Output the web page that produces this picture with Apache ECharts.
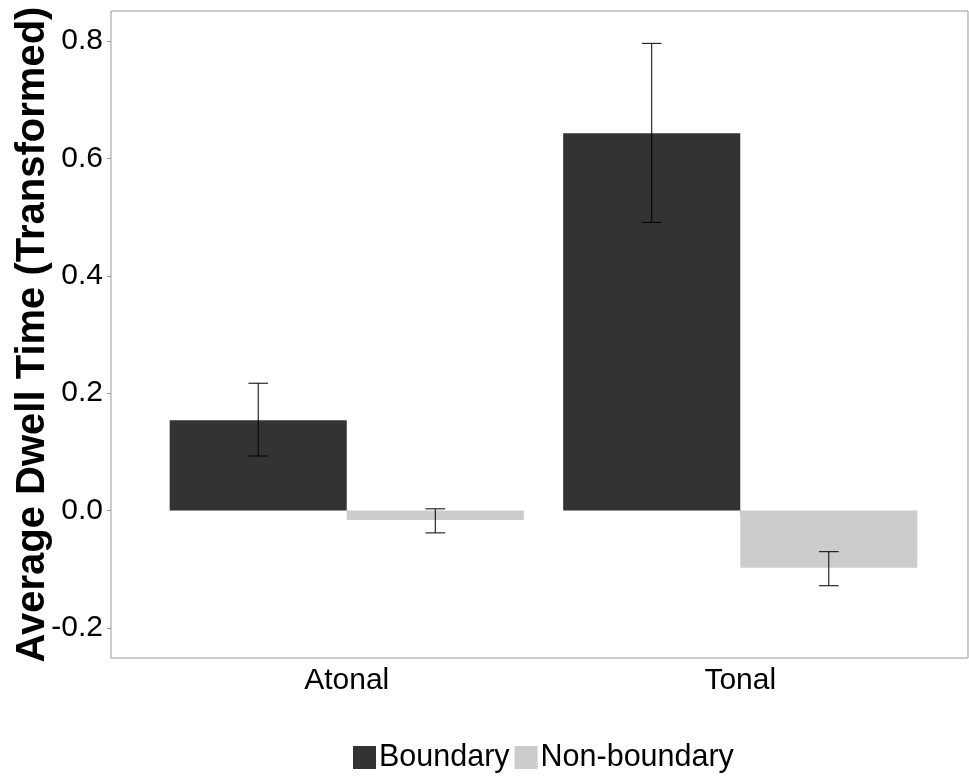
<!DOCTYPE html>
<html>
<head>
<meta charset="utf-8">
<script src="https://cdn.jsdelivr.net/npm/echarts@6/dist/echarts.min.js"></script>
<style>html,body{margin:0;padding:0;background:#fff}#c{width:969px;height:779px}</style>
</head>
<body>
<div id="c"></div>
<script>
const categories = ['Atonal', 'Tonal'];
const seriesNames = ['Boundary', 'Non-boundary'];
const boundary = [0.154, 0.643];
const boundaryLow = [0.093, 0.491];
const boundaryHigh = [0.217, 0.796];
const nonBoundary = [-0.016, -0.0975];
const nonBoundaryLow = [-0.038, -0.128];
const nonBoundaryHigh = [0.003, -0.070];
const yTicks = { min: -0.2, max: 0.8, interval: 0.2 };

const FONT = 'Liberation Sans, Arial, sans-serif';
const chart = echarts.init(document.getElementById('c'), null, { renderer: 'canvas' });

function errData(lo, hi) {
  return categories.map((c, i) => [i, lo[i], hi[i]]);
}
function errRender(shift) {
  return function (params, api) {
    const x = api.value(0);
    const pLo = api.coord([x, api.value(1)]);
    const pHi = api.coord([x, api.value(2)]);
    const band = api.size([1, 0])[0];
    const cx = pLo[0] + shift * band;
    const hw = band * 0.025;
    const st = { stroke: '#000', lineWidth: 1 };
    return {
      type: 'group',
      children: [
        { type: 'line', shape: { x1: cx, y1: pLo[1], x2: cx, y2: pHi[1] }, style: st },
        { type: 'line', shape: { x1: cx - hw, y1: pHi[1], x2: cx + hw, y2: pHi[1] }, style: st },
        { type: 'line', shape: { x1: cx - hw, y1: pLo[1], x2: cx + hw, y2: pLo[1] }, style: st }
      ]
    };
  };
}

const option = {
  backgroundColor: '#fff',
  animation: false,
  textStyle: { fontFamily: FONT },
  grid: [
    { left: 150, width: 787, top: 41, height: 587, containLabel: false, outerBoundsMode: 'none' },
    { left: 111, width: 857, top: 11, height: 647, show: true, borderColor: '#999', borderWidth: 1, backgroundColor: 'transparent', z: 0, containLabel: false, outerBoundsMode: 'none' }
  ],
  legend: {
    data: seriesNames,
    left: 353,
    top: 742,
    icon: 'rect',
    itemWidth: 23,
    itemHeight: 23,
    itemGap: 5,
    textStyle: { fontSize: 30.5, color: '#000', fontFamily: FONT, padding: [0, 0, 0, -2] },
    padding: 0
  },
  xAxis: [
    {
      type: 'category', gridIndex: 0, data: categories, offset: 30,
      axisLine: { show: false },
      axisTick: { show: true, length: 4, alignWithLabel: true, lineStyle: { color: '#999' } },
      axisLabel: { fontSize: 30, color: '#000', margin: 8, fontFamily: FONT },
      splitLine: { show: false }
    },
    { type: 'value', gridIndex: 1, show: false }
  ],
  yAxis: [
    {
      type: 'value', gridIndex: 0, min: yTicks.min, max: yTicks.max, interval: yTicks.interval, offset: 39,
      axisLine: { show: false },
      axisTick: { show: true, length: 4, lineStyle: { color: '#999' } },
      axisLabel: { fontSize: 30, color: '#000', margin: 8, fontFamily: FONT, formatter: v => v.toFixed(1) },
      splitLine: { show: false },
      name: 'Average Dwell Time (Transformed)',
      nameLocation: 'middle',
      nameGap: 58,
      nameMoveOverlap: false,
      nameTextStyle: { fontSize: 40, fontWeight: 'bold', color: '#000', fontFamily: FONT }
    },
    { type: 'value', gridIndex: 1, show: false }
  ],
  series: [
    {
      name: seriesNames[0], type: 'bar', xAxisIndex: 0, yAxisIndex: 0,
      data: boundary, barWidth: '45%', barGap: '0%',
      itemStyle: { color: '#333333' }, z: 2
    },
    {
      name: seriesNames[1], type: 'bar', xAxisIndex: 0, yAxisIndex: 0,
      data: nonBoundary, barWidth: '45%', barGap: '0%',
      itemStyle: { color: '#cccccc' }, z: 2
    },
    {
      type: 'custom', xAxisIndex: 0, yAxisIndex: 0, z: 5,
      data: errData(boundaryLow, boundaryHigh), renderItem: errRender(-0.225),
      encode: { x: 0, y: [1, 2] }
    },
    {
      type: 'custom', xAxisIndex: 0, yAxisIndex: 0, z: 5,
      data: errData(nonBoundaryLow, nonBoundaryHigh), renderItem: errRender(0.225),
      encode: { x: 0, y: [1, 2] }
    }
  ]
};
chart.setOption(option);
</script>
</body>
</html>
